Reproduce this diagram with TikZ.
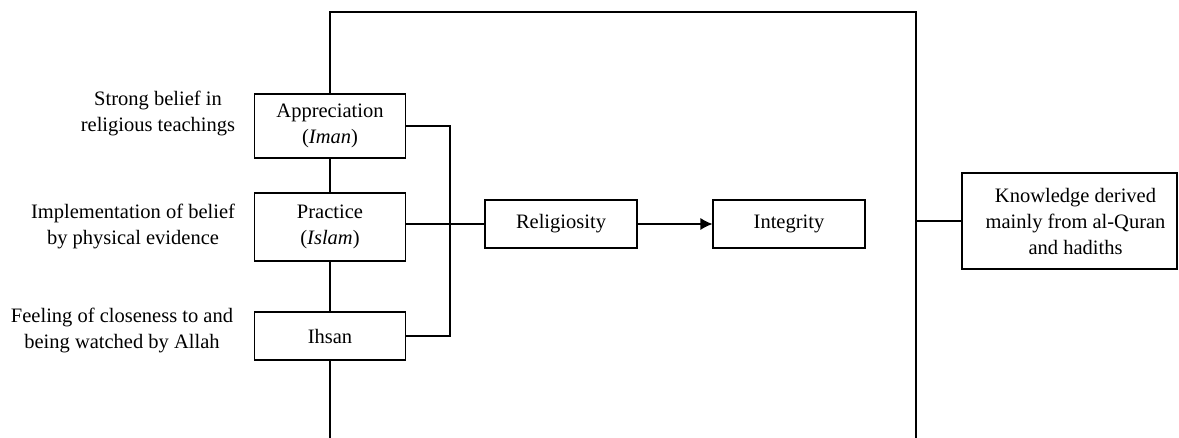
\documentclass[tikz,border=0pt]{standalone}
\usepackage{fontspec}
\setmainfont{Liberation Serif}
\usetikzlibrary{arrows.meta}
\begin{document}
\begin{tikzpicture}[x=0.5pt,y=-0.5pt,
  every node/.style={font=\fontsize{10.25}{13}\selectfont},
  box/.style={draw,line width=0.55pt,fill=white,align=center,inner sep=0pt},
  lbl/.style={align=center,inner sep=0pt},
  conn/.style={line width=0.55pt}]
\useasboundingbox (0,0) rectangle (1179,438);
\coordinate (tl) at (330,12);
\coordinate (tr) at (916,12);
\coordinate (bl) at (330,438);
\coordinate (br) at (916,438);
\coordinate (jx) at (450,224);
\node[box,minimum width=75.5pt,minimum height=32pt] (app) at (330,126) {Appreciation\\(\textit{Iman})};
\node[box,minimum width=75.5pt,minimum height=34pt] (pra) at (330,227) {Practice\\(\textit{Islam})};
\node[box,minimum width=75.5pt,minimum height=24pt] (ihs) at (330,336) {Ihsan};
\node[lbl] (l1) at (158,113) {Strong belief in\\religious teachings};
\node[lbl] (l2) at (133,226) {Implementation of belief\\by physical evidence};
\node[lbl] (l3) at (122,330) {Feeling of closeness to and\\being watched by Allah};
\node[box,minimum width=76pt,minimum height=24pt] (rel) at (561,224) {Religiosity};
\node[box,minimum width=76pt,minimum height=24pt] (int) at (789,224) {Integrity};
\node[box,minimum width=107.5pt,minimum height=48pt] (kn) at (1069.5,221) {\hspace*{6pt}Knowledge derived\\\hspace*{6pt}mainly from al-Quran\\\hspace*{6pt}and hadiths};
\draw[conn] (app.north) -- (tl) -- (tr) -- (br);
\draw[conn] (app.south) -- (pra.north);
\draw[conn] (pra.south) -- (ihs.north);
\draw[conn] (ihs.south) -- (bl);
\draw[conn] (app.east) -- (app.east -| jx) -- (ihs.east -| jx) -- (ihs.east);
\draw[conn] (rel.west -| pra.east) -- (rel.west);
\draw[conn,-{Latex[length=6pt,width=6pt]}] (rel.east) -- (int.west);
\draw[conn] (kn.west) -- (kn.west -| tr);
\end{tikzpicture}
\end{document}
